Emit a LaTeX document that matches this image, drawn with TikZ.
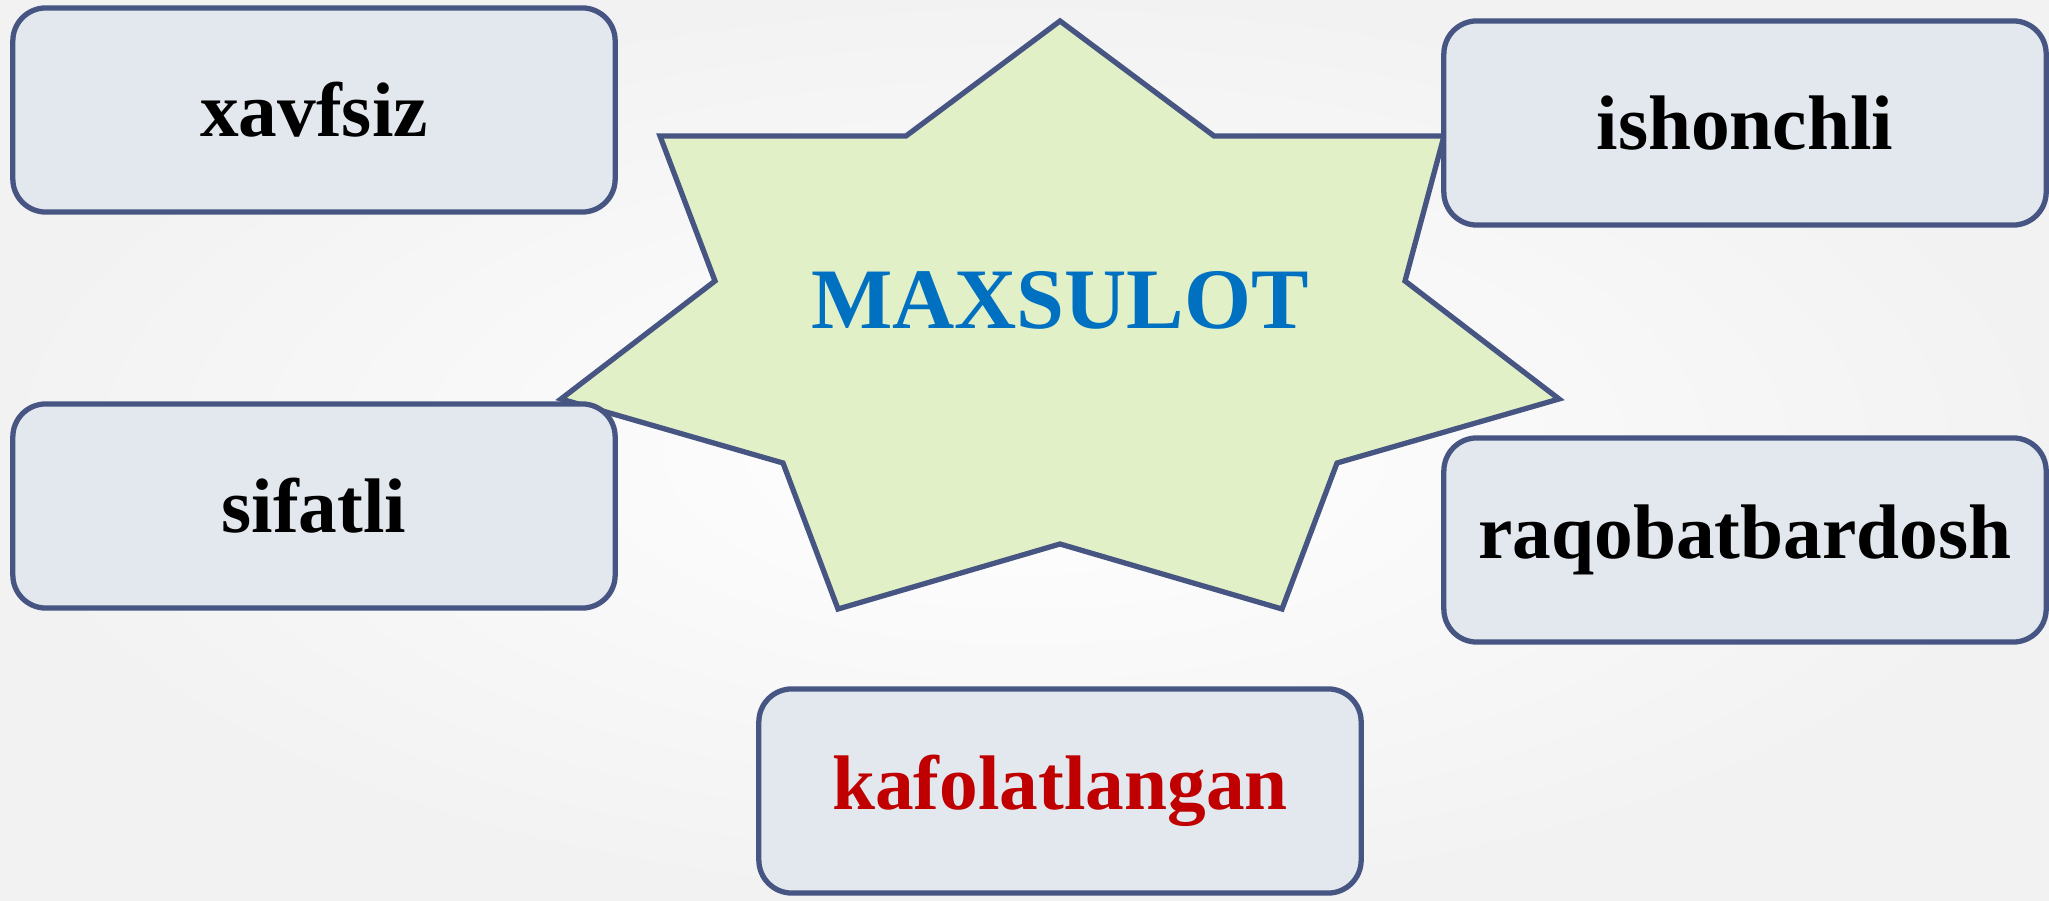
\documentclass[tikz,border=0pt]{standalone}
\usepackage{fontspec}
\setmainfont{Liberation Serif}
\usepackage{tikz}
\definecolor{boxline}{RGB}{70,85,130}
\definecolor{boxfill}{RGB}{227,232,239}
\definecolor{starfill}{RGB}{226,240,200}
\definecolor{titleblue}{RGB}{0,112,192}
\definecolor{wordred}{RGB}{192,0,0}

\begin{document}
\begin{tikzpicture}[x=0.01cm,y=-0.01cm]
\tikzstyle{quality}=[rectangle,rounded corners=3.3mm,draw=boxline,line width=1.5pt,fill=boxfill,minimum width=6.02cm,minimum height=2.04cm,inner sep=0pt,font=\fontsize{22}{26}\selectfont\bfseries]
\tikzstyle{starline}=[draw=boxline,line width=1.5pt,fill=starfill,line join=miter]
\useasboundingbox (0,0) rectangle (2049,901);
\shade[inner color=white,outer color=black!5] (0,0) rectangle (2049,901);
% seven-point star in the middle
\draw[starline] (1060,21) -- (1214,136) -- (1444,136) -- (1405,281) -- (1559,399) -- (1337,463)
	-- (1282,609) -- (1060,544) -- (838,609) -- (783,463) -- (561,399) -- (715,281)
	-- (660,136) -- (906,136) -- cycle;
\node[font=\fontsize{24.5}{28}\selectfont\bfseries,text=titleblue] (maxsulot) at (1060,300) {MAXSULOT};
\foreach \name/\point/\col in {
	xavfsiz/{314,110}/black,
	ishonchli/{1745,123}/black,
	sifatli/{314,506}/black,
	raqobatbardosh/{1745,540}/black,
	kafolatlangan/{1060,791}/wordred}
	\node[quality,text=\col] (\name) at (\point) {\name};
\end{tikzpicture}
\end{document}
